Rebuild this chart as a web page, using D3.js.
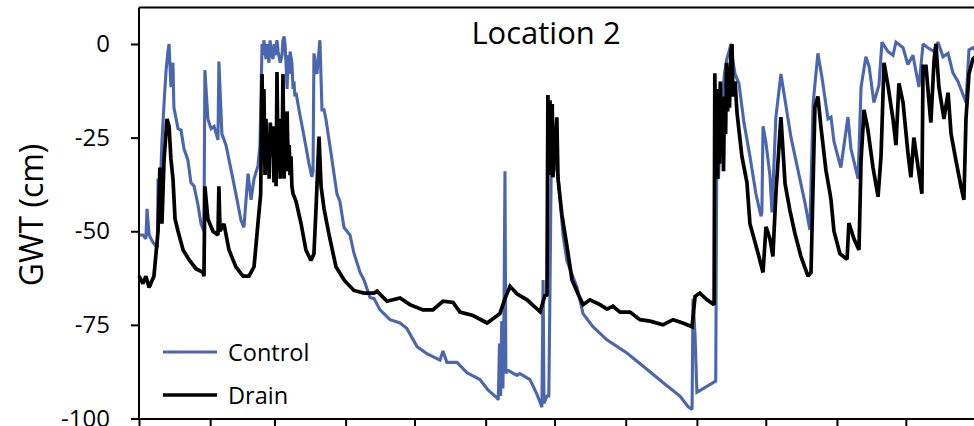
<!DOCTYPE html>
<html>
<head>
<meta charset="utf-8">
<script src="https://cdn.jsdelivr.net/npm/d3@7"></script>
<style>
  html, body { margin: 0; padding: 0; background: #fff; }
  svg { display: block; }
  text { font-family: "Open Sans", "Liberation Sans", sans-serif; fill: #000; }
</style>
</head>
<body>
<svg id="chart" width="974" height="426"></svg>
<script>
// Groundwater table depth (cm) through the year, Location 2
const title = "Location 2";
const yLabel = "GWT (cm)";
const seriesNames = ["Control", "Drain"];
const seriesColors = ["#4a66ae", "#000000"];
const seriesWidths = [3.1, 3.7];

// month start days (day of year) used as x ticks
const monthStarts = [0, 31, 59, 90, 120, 151, 181, 212, 243, 273, 304, 334, 365];
const yTicks = [0, -25, -50, -75, -100];

// [day, GWT cm]
const control = [
  [0,-51],[1.7,-51],[3,-52],[3.5,-44],[4.4,-51],[6.1,-53],[7.4,-54],[8,-54],[8.3,-36],[9.1,-41],
  [10,-26],[10.9,-16],[11.8,-7],[12.6,-2],[13.1,0],[13.9,-11.5],[14.8,-5],[15.2,-17],[17,-22.6],
  [18.3,-23],[19.6,-28],[21.3,-31],[22.6,-37],[24,-38],[25.7,-43],[27,-48],[28.3,-50],[28.7,-7],
  [30,-20],[31.4,-22.6],[32.7,-22],[34.4,-25.6],[34.8,-4.7],[36.1,-24],[37.9,-27],[40.1,-33.6],
  [42.2,-40],[44.4,-47],[45.7,-49],[47.5,-34.6],[48.8,-41.6],[50.1,-36],[51.8,-32.6],[52.7,-27],
  [53.6,0],[54,-3],[54.4,1],[55.3,-4],[55.8,0],[56.6,-5],[57.1,1],[57.5,-2],[58.4,-4],[58.8,0],
  [59.3,-3],[60.1,1],[60.6,-2],[61.5,-5],[62.3,-3],[62.7,1],[63.2,2],[63.6,0],[64.1,-6],[64.5,-12],
  [65,-3],[65.4,-8],[65.8,-2],[66.6,-5],[67.1,-12],[67.5,-10],[67.9,-14],[68.4,-13],[69.7,-17.6],
  [71.9,-24.7],[74,-31.8],[75.3,-35.5],[75.8,-34],[76.2,-2.5],[77.5,-8],[78.8,1],[79.7,-17.6],
  [80.6,-17.6],[81.4,-20],[83.6,-29],[86.2,-40],[87.5,-42],[89.3,-49],[91.9,-51],[93.6,-55.8],
  [96.3,-61],[98,-63],[100.6,-67.7],[102.4,-68],[105,-71],[109.3,-73.6],[113.7,-74.5],[116.7,-76],
  [121.1,-80.8],[125.4,-82.7],[131.1,-84.4],[132.4,-82],[134.1,-85],[138.5,-85],[142.9,-87.8],
  [148.5,-89.6],[152,-92.4],[155.9,-94.5],[156.5,-95],[157,-80],[157.5,-94],[158,-74],[158.5,-92],
  [159,-70],[159.4,-34],[159.8,-88],[160.3,-87],[164.6,-88.5],[165.9,-88],[170.3,-89.6],
  [173.3,-93.5],[175.5,-97],[176,-63],[176.4,-96],[177.7,-94],[178.5,-94],[179,-66],[179.5,-35],
  [180.5,-30],[182.5,-35],[184.7,-51],[186.4,-58],[190.8,-65],[193.4,-72],[197.7,-75.5],
  [203.8,-79],[212.5,-82.5],[219.5,-86],[228.2,-90.4],[235.6,-94],[239.1,-96.8],[240.9,-97.6],
  [241.3,-68],[242.2,-78],[243,-93],[251.2,-90],[251.6,-37],[252,-32],[252.4,-36],[253,-25],
  [253.5,-30],[254,-15],[255,-8],[256,-4],[257,-2],[257.8,0],[258.3,-3],[259.6,-8],[261.3,-10.5],
  [263.5,-21],[266.1,-30],[268.7,-40],[270.9,-46],[271.3,-45],[271.8,-22],[273,-26],[274.8,-35],
  [275.7,-45],[277.4,-19.5],[279.6,-8],[281.4,-15],[284,-25],[287,-33.6],[290.1,-42.5],
  [292.2,-49.6],[293.6,-16],[295.7,-2.5],[297.5,-9],[300.1,-20],[301.4,-19.5],[302.7,-26],
  [305.7,-33],[308.8,-19.5],[310.1,-28],[313.2,-36],[314.5,-11.5],[316.6,-3.4],[318,-6],
  [320.1,-15.6],[322.3,-11],[323.6,0.5],[326.2,-2],[328.4,-3],[329.7,0.5],[332.8,-1],[334.9,-5.5],
  [337.1,-3],[339.7,-11.5],[341.5,0],[343.6,-1],[346.3,-2],[348,0.5],[350.2,-3.4],[352.4,-2.5],
  [354.5,-7.7],[356.7,-10],[358.9,-13.5],[360.2,-15.6],[361.5,-1.6],[363.2,-1],[365,-2]
];

const drain = [
  [0,-62],[1.7,-64],[3,-62],[4.4,-65],[6.5,-62],[8.3,-50],[9.1,-33],[10,-48],[10.9,-31],[12.2,-20],
  [13.1,-22],[13.9,-30.7],[14.8,-36],[15.7,-46.7],[17,-50],[19.2,-55],[21.8,-57.6],[24.8,-60],
  [27.9,-61],[28.3,-62],[28.7,-38],[30,-46.7],[32.2,-50],[34.4,-51],[34.8,-38],[35.3,-50],[37,-48],
  [39.2,-55],[42.2,-59.5],[45.3,-62],[47.9,-62],[50.1,-59.5],[51.8,-48],[53,-40],[53.6,-8],
  [54,-30],[54.4,-12],[54.9,-35],[55.3,-20],[55.8,-33],[56.2,-24],[56.7,-36],[57.2,-21],[57.9,-30],
  [58.4,-22],[58.8,-37],[59.3,-26],[59.7,-38],[60.1,-7.5],[60.6,-34],[61,-20],[61.5,-36],[62,-25],
  [62.3,-33],[62.7,-8],[63.2,-36],[63.6,-22],[64.1,-34],[64.5,-18],[65,-33],[65.4,-27],[65.8,-35],
  [66.2,-30],[66.6,-38],[67.1,-40],[68.4,-42],[70.6,-48],[72.7,-55],[74.9,-57.8],[76.2,-56],
  [77.1,-44],[78.4,-24.7],[79.3,-38],[80.6,-44],[82.8,-51],[85.8,-59.5],[89.3,-63],[93.6,-65.8],
  [98,-66.5],[102.4,-66.5],[103.7,-66],[108,-68.7],[113.7,-67.8],[118,-69.6],[123.7,-71],[128,-71],
  [132.4,-68.7],[136.8,-69],[139.8,-71.6],[145.5,-72.5],[151.6,-74.5],[157.2,-72],[159.4,-68],
  [161.6,-64.7],[164.6,-66.7],[169,-68.3],[174.7,-71.5],[176.8,-67.2],[177.7,-67],[178.1,-13.6],
  [178.6,-30],[179,-15],[179.5,-35],[180,-16],[180.3,-35.6],[182,-19.6],[182.5,-36],[184.2,-45.6],
  [186.4,-54],[188.6,-63],[191.2,-66.7],[193.4,-69.6],[196.4,-68.3],[200.8,-69.6],[203.8,-70.8],
  [206.4,-70],[209.5,-71.6],[213.9,-71.6],[218.2,-73.6],[222.6,-74],[228.2,-75],[232.6,-73.6],
  [236.9,-74.5],[240.9,-75.5],[242.2,-67.4],[244.3,-66.5],[247.4,-68.3],[250.5,-69.6],
  [250.8,-7.8],[251.2,-30],[251.6,-12],[252,-36],[252.4,-15],[252.8,-32],[253.2,-10],[253.7,-28],
  [254.1,-18],[254.6,-34],[255,-14],[255.5,-24],[255.9,-5],[256.4,-18],[256.8,-6],[257.2,-17],
  [257.8,-2],[258.3,0],[258.7,-14],[259.6,-10],[260.5,-18.5],[262.6,-30],[264.8,-37],[266.1,-48],
  [269.6,-55.8],[271.8,-61],[273.1,-48.8],[274.8,-52],[276.1,-56.7],[277.4,-40],[279.6,-19.5],
  [281.4,-37.3],[283.5,-44.4],[285.7,-50.6],[288.3,-56.7],[291.4,-62],[292.7,-61],[294.4,-16.8],
  [295.7,-14],[297,-22],[299.2,-33.7],[301,-40],[301.4,-41.6],[302.7,-50],[305.3,-56],[308.4,-57.5],
  [309.2,-47.8],[311.4,-52],[313.6,-55],[314.5,-31],[315.8,-17.6],[317.5,-23],[319.7,-33],
  [321.9,-40.8],[323.2,-30],[324.5,-5],[326.2,-11],[328.4,-20],[329.7,-27],[331,-10.5],
  [332.8,-15.7],[334.9,-29],[336.2,-35.6],[337.5,-25],[339.7,-34.5],[341,-40],[341.5,-6],
  [342.8,-6],[344.1,-15.6],[344.9,-21],[346.3,-4.3],[347.1,0],[348.4,-11.5],[350.6,-20],
  [352.4,-13],[353.7,-24],[355.8,-31],[358,-38],[359.3,-41.6],[360.2,-20],[361.5,-8],[363.2,-4],
  [365,-3]
];

const svg = d3.select("#chart");

const x = d3.scaleLinear().domain([0, 365]).range([139, 977]);
const y = d3.scaleLinear().domain([-100, 0]).range([418.5, 44]);
const yTop = 9.75;

// frame top line
svg.append("line")
  .attr("x1", x(0)).attr("x2", 974)
  .attr("y1", y(yTop)).attr("y2", y(yTop))
  .attr("stroke", "#000").attr("stroke-width", 2);

// series lines
const line = d3.line().x(d => x(d[0])).y(d => y(d[1]));
[control, drain].forEach((data, i) => {
  svg.append("path")
    .datum(data)
    .attr("fill", "none")
    .attr("stroke", seriesColors[i])
    .attr("stroke-width", seriesWidths[i])
    .attr("stroke-linejoin", "miter")
    .attr("stroke-miterlimit", 2)
    .attr("d", line);
});

// axes
const xAxis = svg.append("g")
  .attr("transform", `translate(0,${y(-100)})`)
  .call(d3.axisBottom(x).tickValues(monthStarts).tickSize(9).tickSizeOuter(0).tickFormat(""));
const yAxis = svg.append("g")
  .attr("transform", `translate(${x(0)},0)`)
  .call(d3.axisLeft(y).tickValues(yTicks).tickSize(8).tickSizeOuter(0)
    .tickPadding(21).tickFormat(d => String(d)));
yAxis.select(".domain").attr("d", `M0,${y(-100)}V${y(yTop)}`);
[xAxis, yAxis].forEach(g => {
  g.select(".domain").attr("stroke", "#000").attr("stroke-width", 2);
  g.selectAll(".tick line").attr("stroke", "#000").attr("stroke-width", 2);
});
yAxis.selectAll(".tick text")
  .style("font-family", "'Open Sans', sans-serif")
  .style("font-size", "24px")
  .attr("fill", "#000");

// axis title
svg.append("text")
  .attr("transform", `translate(43,215) rotate(-90)`)
  .attr("text-anchor", "middle")
  .style("font-size", "32px")
  .text(yLabel);

// chart title
svg.append("text")
  .attr("x", 546).attr("y", 44)
  .attr("text-anchor", "middle")
  .style("font-size", "31px")
  .text(title);

// legend
const legendY = [352, 395];
seriesNames.forEach((name, i) => {
  svg.append("line")
    .attr("x1", 163).attr("x2", 217)
    .attr("y1", legendY[i]).attr("y2", legendY[i])
    .attr("stroke", seriesColors[i])
    .attr("stroke-width", seriesWidths[i]);
  svg.append("text")
    .attr("x", 228).attr("y", legendY[i] + 9)
    .style("font-size", "23.5px")
    .text(name);
});
</script>
</body>
</html>
